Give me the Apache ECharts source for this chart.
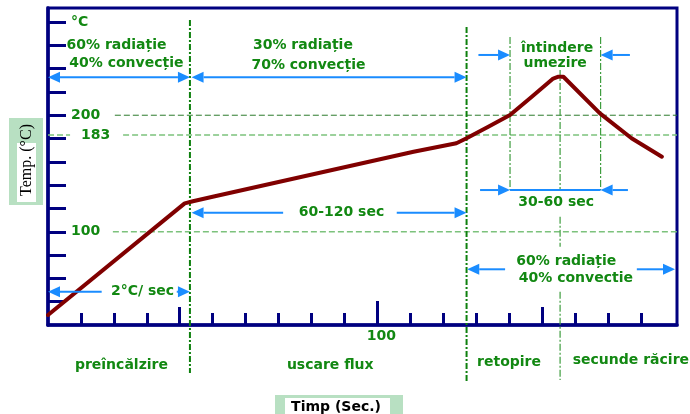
<!DOCTYPE html>
<html><head><meta charset="utf-8">
<script src="https://cdn.jsdelivr.net/npm/echarts@6/dist/echarts.min.js"></script>
<style>html,body{margin:0;padding:0;background:#fff}#c{width:690px;height:414px}</style>
</head><body><div id="c"></div>
<script>
// ---------------- data ----------------
const timeSec = [0, 41.5, 44, 50, 111, 124, 127.1, 133.7, 140.3, 147, 153.4, 154.8, 156.5, 167.6, 177.2, 186.4];
const tempC   = [28.6, 124.4, 126.2, 130, 168.7, 176, 180.2, 190.1, 200.2, 216, 231.5, 233, 233, 201.6, 180.2, 164.4];

const xTickSec = [10,20,30,40,50,60,70,80,90,100,110,120,130,140,150,160,170,180];
const xLongTickSec = [40,150];
const xLongestTickSec = [100];
const xLabelSec = [100];
const yTickC = [40,60,80,100,120,140,160,180,200,220,240,260,280];
const yLabelC = [280, 200, 183, 100];
const yLabelText = ['°C', '200', '183', '100'];

// reference temperature lines
const refTempC   = [200, 183, 183, 100];
const refFromSec = [20.3, 0, 22.8, 19.7];
const refToSec   = [191, 6.7, 191, 191];

// phase boundary lines
const phaseLineSec   = [43.1, 127.1, 140.3, 167.8, 155.5, 155.5, 155.5];
const phaseLineFromC = [281.7, 275.7, 267.1, 267.1, 238.8, 112.9, 48.6];
const phaseLineToC   = [-21.2, -28.7, 135.8, 135.8, 135.8, 87.2, -27.2];

// dimension arrows: from, to, at temperature, head at start, head at end
const arrowFromSec = [0, 43.6, 43.6, 105.9, 0, 39.1, 130.7, 167.8, 131.2, 140.3, 167.8, 127.3, 178.8];
const arrowToSec   = [43.1, 127.1, 71.4, 127.1, 16.3, 43.1, 140.3, 176.7, 140.3, 167.8, 176.1, 138.8, 190.4];
const arrowAtC     = [232.5, 232.5, 116.4, 116.4, 48.6, 48.6, 251.7, 251.7, 135.8, 135.8, 135.8, 67.8, 67.8];
const arrowHeadFrom= [1, 1, 1, 0, 1, 0, 0, 1, 0, 0, 1, 1, 0];
const arrowHeadTo  = [1, 1, 0, 1, 0, 1, 1, 0, 1, 0, 0, 0, 1];

// annotation texts
const noteText = ['60% radiație','40% convecție','30% radiație','70% convecție','60-120 sec','2°C/ sec',
                  'întindere','umezire','30-60 sec','60% radiație','40% convectie',
                  'preîncălzire','uscare flux','retopire','secunde răcire'];
const noteSec  = [20.8, 23.8, 77.4, 79.1, 89.1, 28.7, 154.6, 154.0, 154.3, 157.4, 160.3, 22.3, 85.7, 140.0, 177.0];
const noteC    = [260.3, 244.8, 260.3, 243.1, 116.4, 48.6, 257.4, 244.5, 124.9, 74.3, 60.1, -14.3, -14.3, -12.3, -10.6];

// ---------------- styles ----------------
const NAVY = '#000080', GREEN = '#128812', BLUE = '#1a8cff', MAROON = '#800000';
const FONT = 'bold 14px "DejaVu Sans"';

const chart = echarts.init(document.getElementById('c'), null, {renderer:'canvas'});

function xAxisBase(extra) {
  return Object.assign({
    type:'value', min:0, max:191, interval:10, position:'bottom', gridIndex:0,
    splitLine:{show:false},
    axisLine:{show:false, onZero:false},
    axisLabel:{show:false},
    axisTick:{show:false}
  }, extra);
}

const option = {
  animation:false,
  backgroundColor:'#ffffff',
  grid:{left:48, top:8, right:13, bottom:89, show:true, borderColor:NAVY, borderWidth:3, backgroundColor:'transparent'},
  xAxis:[
    xAxisBase({
      axisLine:{show:true, onZero:false, lineStyle:{color:NAVY, width:3.5}},
      axisTick:{show:true, inside:true, length:12, customValues:xTickSec, lineStyle:{color:NAVY, width:3}},
      axisLabel:{show:true, customValues:xLabelSec, margin:4, color:GREEN, fontWeight:'bold', fontSize:14, fontFamily:'DejaVu Sans',
        formatter: v => '{p|' + v + '}', rich:{p:{padding:[0,0,0,8], color:GREEN, fontWeight:'bold', fontSize:14, fontFamily:'DejaVu Sans'}}}
    }),
    xAxisBase({axisTick:{show:true, inside:true, length:18, customValues:xLongTickSec, lineStyle:{color:NAVY, width:3}}}),
    xAxisBase({axisTick:{show:true, inside:true, length:24, customValues:xLongestTickSec, lineStyle:{color:NAVY, width:3}}})
  ],
  yAxis:[{
    type:'value', min:20, max:292, interval:20,
    splitLine:{show:false},
    axisLine:{show:true, onZero:false, lineStyle:{color:NAVY, width:3.5}},
    axisTick:{show:true, inside:true, length:18, customValues:yTickC, lineStyle:{color:NAVY, width:3}},
    axisLabel:{show:true, inside:true, margin:23, customValues:yLabelC,
      formatter: v => { const i = yLabelC.indexOf(v); const t = i >= 0 ? yLabelText[i] : ''; return v === 183 ? '{s|' + t + '}' : '{n|' + t + '}'; },
      rich:{
        n:{color:GREEN, fontWeight:'bold', fontSize:14, fontFamily:'DejaVu Sans'},
        s:{color:GREEN, fontWeight:'bold', fontSize:14, fontFamily:'DejaVu Sans', padding:[0,0,0,10]}
      }}
  }],
  series:[
    { // reference temperature lines
      type:'custom', xAxisIndex:0, yAxisIndex:0, z:2, silent:true,
      encode:{x:[0,1], y:2},
      data: refTempC.map((c,i) => [refFromSec[i], refToSec[i], c]),
      renderItem:(params, api) => {
        const c = api.value(2);
        const p1 = api.coord([api.value(0), c]), p2 = api.coord([api.value(1), c]);
        const dark = c === 200;
        return {type:'line', shape:{x1:p1[0], y1:p1[1], x2:p2[0], y2:p2[1]},
          style:{stroke: dark ? '#2c7a2c' : '#7cc27c', lineWidth: dark ? 1 : 1.5, lineDash:[6,3]}};
      }
    },
    { // phase boundary lines
      type:'custom', xAxisIndex:0, yAxisIndex:0, z:3, silent:true,
      encode:{x:0, y:[1,2]},
      data: phaseLineSec.map((s,i) => [s, phaseLineFromC[i], phaseLineToC[i]]),
      renderItem:(params, api) => {
        const s = api.value(0);
        const p1 = api.coord([s, api.value(1)]), p2 = api.coord([s, api.value(2)]);
        const major = params.dataIndex < 2;
        return {type:'line', shape:{x1:p1[0], y1:p1[1], x2:p2[0], y2:p2[1]},
          style:{stroke: major ? '#0e800e' : '#3f9d3f', lineWidth: major ? 2 : 1.2, lineDash: major ? [6,2,2,2] : [7,2,2,2]}};
      }
    },
    { // temperature profile
      type:'line', xAxisIndex:0, yAxisIndex:0, z:5,
      data: timeSec.map((t,i) => [t, tempC[i]]),
      symbol:'none', smooth:false,
      lineStyle:{color:MAROON, width:4, cap:'round', join:'round'}
    },
    { // dimension arrows
      type:'custom', xAxisIndex:0, yAxisIndex:0, z:6, silent:true,
      encode:{x:[0,1], y:2},
      data: arrowFromSec.map((s,i) => [s, arrowToSec[i], arrowAtC[i], arrowHeadFrom[i], arrowHeadTo[i]]),
      renderItem:(params, api) => {
        const c = api.value(2);
        const a = api.coord([api.value(0), c]), b = api.coord([api.value(1), c]);
        const hf = api.value(3), ht = api.value(4);
        const L = 12, W = 5.5, y = a[1];
        const children = [];
        const x1 = hf ? a[0] + L : a[0], x2 = ht ? b[0] - L : b[0];
        if (x2 > x1) children.push({type:'line', shape:{x1:x1, y1:y, x2:x2, y2:y}, style:{stroke:BLUE, lineWidth:2}});
        if (hf) children.push({type:'polygon', shape:{points:[[a[0], y], [a[0]+L, y-W], [a[0]+L, y+W]]}, style:{fill:BLUE}});
        if (ht) children.push({type:'polygon', shape:{points:[[b[0], y], [b[0]-L, y-W], [b[0]-L, y+W]]}, style:{fill:BLUE}});
        return {type:'group', children};
      }
    },
    { // annotation texts
      type:'custom', xAxisIndex:0, yAxisIndex:0, z:7, silent:true,
      encode:{x:0, y:1},
      data: noteSec.map((s,i) => [s, noteC[i]]),
      renderItem:(params, api) => {
        const p = api.coord([api.value(0), api.value(1)]);
        return {type:'text', x:p[0], y:p[1],
          style:{text: noteText[params.dataIndex], fill:GREEN, font:FONT, align:'center', verticalAlign:'middle'}};
      }
    }
  ],
  graphic:[
    {type:'rect', shape:{x:9, y:118, width:34, height:87}, style:{fill:'#b8e0c2'}, z:10},
    {type:'rect', shape:{x:17, y:143, width:19, height:59}, style:{fill:'#ffffff'}, z:11},
    {type:'text', x:27, y:160, rotation:Math.PI/2, z:12,
      style:{text:'Temp. (°C)', font:'16px "Liberation Serif"', fill:'#000', align:'center', verticalAlign:'middle'}},
    {type:'rect', shape:{x:275, y:395, width:128, height:19}, style:{fill:'#b8e0c2'}, z:10},
    {type:'rect', shape:{x:285, y:398, width:105, height:16}, style:{fill:'#ffffff'}, z:11},
    {type:'text', x:336, y:407, z:12,
      style:{text:'Timp (Sec.)', font:'bold 14px "DejaVu Sans"', fill:'#000', align:'center', verticalAlign:'middle'}}
  ]
};
chart.setOption(option);
</script>
</body></html>
